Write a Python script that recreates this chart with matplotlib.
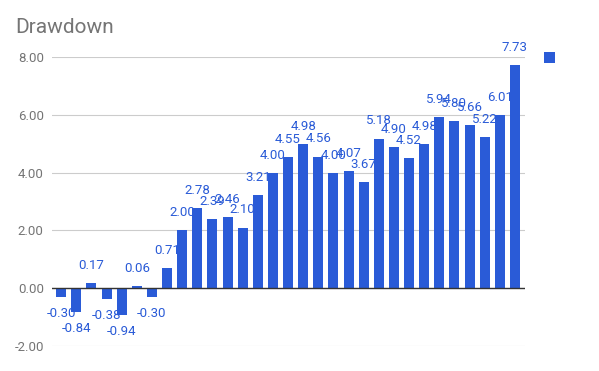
import matplotlib
matplotlib.use("Agg")
import matplotlib.pyplot as plt
from matplotlib.patches import Rectangle

plt.rcParams['font.family'] = ['Roboto', 'DejaVu Sans']

values = [-0.30, -0.84, 0.17, -0.38, -0.94, 0.06, -0.30, 0.71, 2.00, 2.78,
          2.39, 2.46, 2.10, 3.21, 4.00, 4.55, 4.98, 4.56, 4.00, 4.07,
          3.67, 5.18, 4.90, 4.52, 4.98, 5.94, 5.80, 5.66, 5.22, 6.01, 7.73]
labels = [f"{v:.2f}" for v in values]
yticks = [-2.0, 0.0, 2.0, 4.0, 6.0, 8.0]
title = "Drawdown"

blue = "#2a5bd7"
gray = "#757575"

fig = plt.figure(figsize=(5.99, 3.71), dpi=100)
ax = fig.add_axes([0.087, 0.0674, 0.789, 0.7786])
x = list(range(len(values)))
ax.bar(x, values, width=0.66, color=blue, zorder=3)
for xi, v, lab in zip(x, values, labels):
    if v >= 0:
        ax.annotate(lab, (xi, v), xytext=(0, 8), textcoords='offset points',
                    ha='center', va='bottom', color=blue, fontsize=9.5, clip_on=False)
    else:
        ax.annotate(lab, (xi, v), xytext=(0, -7), textcoords='offset points',
                    ha='center', va='top', color=blue, fontsize=9.5, clip_on=False)

ax.set_xlim(-0.6, len(values) - 0.35)
ax.set_ylim(-2, 8)
ax.set_yticks(yticks)
ax.set_yticklabels([f"{t:.2f}" for t in yticks], color=gray, fontsize=9.5)
ax.tick_params(axis='y', length=0, pad=6)
ax.set_xticks([])
for s in ax.spines.values():
    s.set_visible(False)
ax.grid(axis='y', color='#cccccc', linewidth=0.8, zorder=0)
ax.axhline(0, color='#333333', linewidth=1.0, zorder=4)

fig.text(0.025, 0.925, title, color=gray, fontsize=15, ha='left', va='center')
# legend marker (no text)
fig.patches.append(Rectangle((0.909, 0.830), 0.018, 0.029, transform=fig.transFigure,
                             facecolor=blue, edgecolor='none'))

fig.savefig("out.png", dpi=100)
